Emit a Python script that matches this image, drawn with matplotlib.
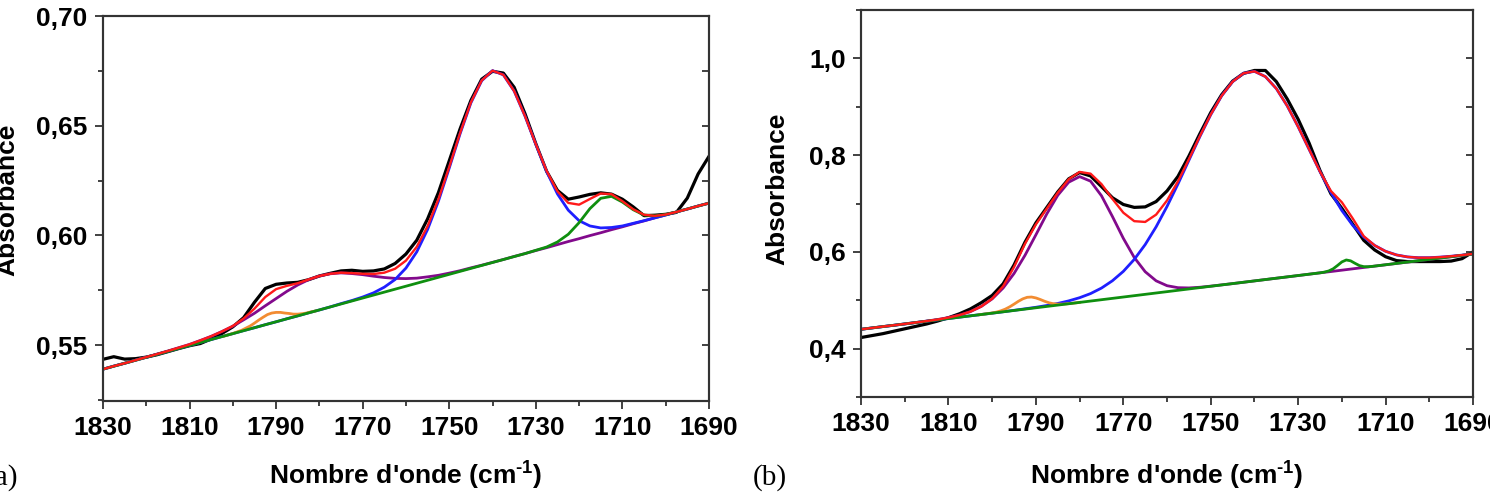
import matplotlib
matplotlib.use("Agg")
import matplotlib.pyplot as plt
from matplotlib.ticker import MultipleLocator

plt.rcParams['font.family'] = ['Liberation Sans', 'DejaVu Sans']
plt.rcParams['font.weight'] = 'bold'
plt.rcParams['mathtext.fontset'] = 'custom'
plt.rcParams['mathtext.rm'] = 'Liberation Sans:bold'
plt.rcParams['mathtext.bf'] = 'Liberation Sans:bold'
plt.rcParams['mathtext.it'] = 'Liberation Sans:bold'

# nombre d'onde commun (cm-1)
wn = [1830, 1827.5, 1825, 1822.5, 1820, 1817.5, 1815, 1812.5, 1810, 1807.5,
      1805, 1802.5, 1800, 1797.5, 1795, 1792.5, 1790, 1787.5, 1785, 1782.5,
      1780, 1777.5, 1775, 1772.5, 1770, 1767.5, 1765, 1762.5, 1760, 1757.5,
      1755, 1752.5, 1750, 1747.5, 1745, 1742.5, 1740, 1737.5, 1735, 1732.5,
      1730, 1727.5, 1725, 1722.5, 1720, 1717.5, 1715, 1712.5, 1710, 1707.5,
      1705, 1702.5, 1700, 1697.5, 1695, 1692.5, 1690]

# ---- panneau (a) ----
a_noir = [0.5435, 0.5447, 0.5436, 0.5438, 0.5445, 0.5456, 0.5470, 0.5484, 0.5497, 0.5507,
          0.5528, 0.5553, 0.5583, 0.5625, 0.5695, 0.5758, 0.5777, 0.5783, 0.5786, 0.5798,
          0.5815, 0.5827, 0.5838, 0.5841, 0.5836, 0.5838, 0.5847, 0.5872, 0.5915, 0.5978,
          0.6075, 0.6195, 0.6340, 0.6485, 0.6615, 0.6712, 0.6748, 0.6740, 0.6675, 0.6555,
          0.6418, 0.6292, 0.6205, 0.6165, 0.6175, 0.6187, 0.6194, 0.6188, 0.6165, 0.6130,
          0.6090, 0.6092, 0.6096, 0.6105, 0.6170, 0.6280, 0.6360]
a_rouge = [0.5390, 0.5404, 0.5417, 0.5431, 0.5445, 0.5459, 0.5473, 0.5488, 0.5503, 0.5521,
           0.5540, 0.5562, 0.5587, 0.5621, 0.5666, 0.5719, 0.5755, 0.5770, 0.5782, 0.5799,
           0.5815, 0.5825, 0.5830, 0.5828, 0.5825, 0.5824, 0.5830, 0.5848, 0.5885, 0.5948,
           0.6042, 0.6165, 0.6312, 0.6466, 0.6606, 0.6706, 0.6751, 0.6732, 0.6658, 0.6544,
           0.6416, 0.6294, 0.6201, 0.6148, 0.6140, 0.6166, 0.6191, 0.6188, 0.6156, 0.6119,
           0.6094, 0.6089, 0.6095, 0.6107, 0.6120, 0.6134, 0.6147]
a_violet = [0.5390, 0.5404, 0.5417, 0.5431, 0.5445, 0.5459, 0.5473, 0.5488, 0.5503, 0.5521,
            0.5540, 0.5562, 0.5586, 0.5615, 0.5645, 0.5679, 0.5712, 0.5745, 0.5774, 0.5798,
            0.5815, 0.5825, 0.5829, 0.5826, 0.5821, 0.5814, 0.5808, 0.5804, 0.5803, 0.5805,
            0.5811, 0.5818, 0.5828, 0.5839, 0.5852, 0.5864, 0.5877, 0.5890, 0.5904, 0.5917,
            0.5931, 0.5944, 0.5958, 0.5972, 0.5985, 0.5999, 0.6012, 0.6026, 0.6039, 0.6053,
            0.6066, 0.6080, 0.6093, 0.6107, 0.6120, 0.6134, 0.6147]
a_bleu = [0.5390, 0.5404, 0.5417, 0.5431, 0.5444, 0.5458, 0.5471, 0.5485, 0.5498, 0.5512,
          0.5525, 0.5539, 0.5552, 0.5566, 0.5579, 0.5593, 0.5606, 0.5620, 0.5633, 0.5647,
          0.5660, 0.5674, 0.5689, 0.5703, 0.5719, 0.5738, 0.5764, 0.5799, 0.5851, 0.5925,
          0.6027, 0.6156, 0.6307, 0.6463, 0.6604, 0.6705, 0.6751, 0.6732, 0.6658, 0.6544,
          0.6415, 0.6291, 0.6189, 0.6115, 0.6067, 0.6043, 0.6034, 0.6036, 0.6043, 0.6055,
          0.6067, 0.6080, 0.6093, 0.6107, 0.6120, 0.6134, 0.6147]
a_orange_x = [1802, 1800, 1799, 1798, 1797, 1796, 1795, 1794, 1793, 1792, 1791,
              1790, 1789, 1788, 1787, 1786, 1785, 1784, 1783, 1782, 1781]
a_orange = [0.5541, 0.5553, 0.5560, 0.5567, 0.5577, 0.5587, 0.5600, 0.5614, 0.5627, 0.5639, 0.5646,
            0.5649, 0.5649, 0.5646, 0.5644, 0.5641, 0.5641, 0.5643, 0.5646, 0.5651, 0.5655]
a_vert_x = [1830, 1732.5, 1730, 1727.5, 1725, 1722.5, 1720, 1717.5, 1715, 1712.5,
            1710, 1707.5, 1705, 1702.5, 1700, 1697.5, 1690]
a_vert = [0.5390, 0.5917, 0.5932, 0.5947, 0.5970, 0.6005, 0.6058, 0.6122, 0.6169, 0.6178,
          0.6152, 0.6117, 0.6093, 0.6089, 0.6095, 0.6107, 0.6147]

# ---- panneau (b) ----
b_noir = [0.423, 0.427, 0.431, 0.436, 0.441, 0.446, 0.451, 0.457, 0.464, 0.472,
          0.482, 0.495, 0.510, 0.534, 0.573, 0.620, 0.660, 0.692, 0.724, 0.751,
          0.764, 0.757, 0.735, 0.712, 0.698, 0.692, 0.693, 0.704, 0.726, 0.756,
          0.798, 0.844, 0.888, 0.925, 0.953, 0.969, 0.975, 0.975, 0.952, 0.916,
          0.874, 0.825, 0.768, 0.720, 0.690, 0.657, 0.624, 0.604, 0.590, 0.582,
          0.580, 0.580, 0.580, 0.580, 0.581, 0.586, 0.600]
b_rouge = [0.4400, 0.4428, 0.4456, 0.4483, 0.4511, 0.4540, 0.4570, 0.4602, 0.4642, 0.4693,
           0.4765, 0.4872, 0.5034, 0.5291, 0.5688, 0.6167, 0.6569, 0.6897, 0.7224, 0.7502,
           0.7653, 0.7617, 0.7401, 0.7096, 0.6810, 0.6635, 0.6619, 0.6770, 0.7063, 0.7459,
           0.7916, 0.8390, 0.8840, 0.9227, 0.9518, 0.9692, 0.9732, 0.9623, 0.9376, 0.9017,
           0.8585, 0.8120, 0.7658, 0.7258, 0.7025, 0.6688, 0.6324, 0.6133, 0.6012, 0.5937,
           0.5896, 0.5880, 0.5880, 0.5892, 0.5910, 0.5933, 0.5959]
b_violet = [0.4400, 0.4428, 0.4456, 0.4483, 0.4511, 0.4540, 0.4570, 0.4602, 0.4642, 0.4693,
            0.4765, 0.4872, 0.5029, 0.5253, 0.5554, 0.5929, 0.6354, 0.6787, 0.7170, 0.7441,
            0.7556, 0.7462, 0.7160, 0.6732, 0.6280, 0.5884, 0.5590, 0.5402, 0.5301, 0.5260,
            0.5255, 0.5269, 0.5292, 0.5318, 0.5344, 0.5372, 0.5400, 0.5428, 0.5456, 0.5483,
            0.5511, 0.5539, 0.5567, 0.5594, 0.5622, 0.5650, 0.5678, 0.5706, 0.5733, 0.5761,
            0.5789, 0.5817, 0.5844, 0.5872, 0.5900, 0.5928, 0.5956]
b_bleu = [0.4400, 0.4428, 0.4456, 0.4483, 0.4511, 0.4539, 0.4567, 0.4594, 0.4622, 0.4650,
          0.4678, 0.4706, 0.4733, 0.4762, 0.4792, 0.4823, 0.4855, 0.4892, 0.4934, 0.4987,
          0.5053, 0.5138, 0.5252, 0.5403, 0.5597, 0.5845, 0.6151, 0.6518, 0.6940, 0.7404,
          0.7894, 0.8382, 0.8837, 0.9226, 0.9518, 0.9692, 0.9732, 0.9623, 0.9376, 0.9017,
          0.8585, 0.8120, 0.7657, 0.7228, 0.6854, 0.6547, 0.6307, 0.6133, 0.6012, 0.5937,
          0.5896, 0.5880, 0.5880, 0.5892, 0.5910, 0.5933, 0.5959]
b_orange_x = [1803, 1800, 1799, 1798, 1797, 1796, 1795, 1794, 1793, 1792, 1791,
              1790, 1789, 1788, 1787, 1786, 1785, 1784, 1783, 1782, 1780]
b_orange = [0.4700, 0.4738, 0.4756, 0.4782, 0.4817, 0.4864, 0.4920, 0.4979, 0.5029, 0.5061, 0.5067,
            0.5048, 0.5016, 0.4979, 0.4948, 0.4928, 0.4920, 0.4920, 0.4926, 0.4934, 0.4956]
b_vert_x = [1830, 1725, 1724, 1723, 1722, 1721, 1720, 1719, 1718, 1717, 1716,
            1715, 1714, 1713, 1690]
b_vert = [0.4400, 0.5567, 0.5582, 0.5606, 0.5650, 0.5719, 0.5793, 0.5833, 0.5815, 0.5764, 0.5717,
          0.5695, 0.5693, 0.5701, 0.5956]

# graduations
x_ticks = [1830, 1810, 1790, 1770, 1750, 1730, 1710, 1690]
x_labels = ["1830", "1810", "1790", "1770", "1750", "1730", "1710", "1690"]
a_yticks = [0.55, 0.60, 0.65, 0.70]
a_ylabels = ["0,55", "0,60", "0,65", "0,70"]
b_yticks = [0.4, 0.6, 0.8, 1.0]
b_ylabels = ["0,4", "0,6", "0,8", "1,0"]

NOIR = "#000000"
ROUGE = "#ff1a1a"
BLEU = "#1f1fff"
VIOLET = "#820a8c"
VERT = "#0f8f0f"
ORANGE = "#f28c32"
CADRE = "#333333"


def dessiner(ax, noir, rouge, violet, bleu, ox, oy, vx, vy,
             ylim, yticks, ylabels, ymin_pas):
    ax.plot(wn, noir, color=NOIR, lw=2.3, zorder=2)
    ax.plot(wn, violet, color=VIOLET, lw=2.0, zorder=3)
    ax.plot(wn, bleu, color=BLEU, lw=2.0, zorder=4)
    ax.plot(ox, oy, color=ORANGE, lw=2.0, zorder=5)
    ax.plot(vx, vy, color=VERT, lw=2.0, zorder=6)
    ax.plot(wn, rouge, color=ROUGE, lw=1.7, zorder=7)

    ax.set_xlim(1830, 1690)
    ax.set_ylim(*ylim)
    ax.set_xticks(x_ticks)
    ax.set_xticklabels(x_labels)
    ax.set_yticks(yticks)
    ax.set_yticklabels(ylabels)
    ax.xaxis.set_minor_locator(MultipleLocator(10))
    ax.yaxis.set_minor_locator(MultipleLocator(ymin_pas))
    ax.tick_params(which='major', direction='out', length=6, width=1.3,
                   labelsize=19, pad=5, color=CADRE)
    ax.tick_params(which='minor', direction='out', length=3.5, width=1.3, color=CADRE)
    ax.tick_params(top=False, right=False, which='both')
    for s in ax.spines.values():
        s.set_linewidth(1.5)
        s.set_color(CADRE)

    # petites graduations internes sur l'axe de droite
    ax2 = ax.twinx()
    ax2.set_ylim(*ylim)
    debut = yticks[0]
    pos = []
    k = 0
    while debut + k * ymin_pas <= ylim[1] + 1e-9:
        pos.append(debut + k * ymin_pas)
        k += 1
    ax2.set_yticks(pos)
    ax2.tick_params(direction='in', length=5, width=1.3, labelright=False, color=CADRE)
    for s in ax2.spines.values():
        s.set_linewidth(1.5)
        s.set_color(CADRE)


fig = plt.figure(figsize=(14.9, 4.93), dpi=100)
ax_a = fig.add_axes([0.0691, 0.1866, 0.4067, 0.7809])
ax_b = fig.add_axes([0.5779, 0.1947, 0.4107, 0.7850])

dessiner(ax_a, a_noir, a_rouge, a_violet, a_bleu, a_orange_x, a_orange,
         a_vert_x, a_vert, (0.5245, 0.70), a_yticks, a_ylabels, 0.025)
dessiner(ax_b, b_noir, b_rouge, b_violet, b_bleu, b_orange_x, b_orange,
         b_vert_x, b_vert, (0.30, 1.10), b_yticks, b_ylabels, 0.1)

titre_x = "Nombre d'onde (cm$^{\\text{-1}}$)"
fig.text(406 / 1490, 1 - 485 / 493, titre_x, ha='center', va='baseline', fontsize=19)
fig.text(1167 / 1490, 1 - 485 / 493, titre_x, ha='center', va='baseline', fontsize=19)
fig.text(19 / 1490, 1 - 200 / 493, "Absorbance", rotation=90, ha='right', va='center', fontsize=19)
fig.text(789 / 1490, 1 - 188.5 / 493, "Absorbance", rotation=90, ha='right', va='center', fontsize=19)

fig.text(18 / 1490, 1 - 485 / 493, "(a)", ha='right', va='baseline', fontsize=21,
         family='Liberation Serif', fontweight='normal')
fig.text(753 / 1490, 1 - 485 / 493, "(b)", ha='left', va='baseline', fontsize=21,
         family='Liberation Serif', fontweight='normal')

fig.savefig("out.png", dpi=100)
